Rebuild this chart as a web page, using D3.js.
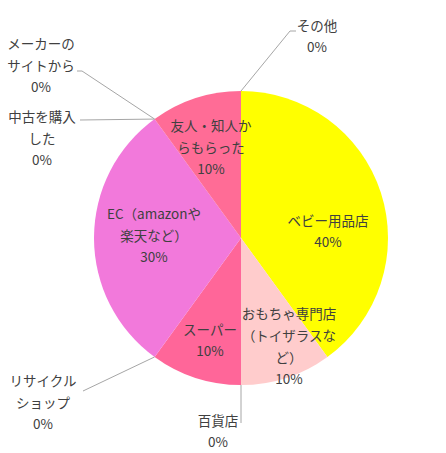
<!DOCTYPE html>
<html>
<head>
<meta charset="utf-8">
<script src="https://cdn.jsdelivr.net/npm/d3@7"></script>
<style>
  body { margin: 0; background: #fff; }
  text { font-family: "Noto Sans CJK JP", "Noto Sans", sans-serif; fill: #404040; }
</style>
</head>
<body>
<div id="chart"></div>
<script>
// data
var categories = ["ベビー用品店", "おもちゃ専門店（トイザラスなど）", "百貨店", "スーパー", "リサイクルショップ",
	"EC（amazonや楽天など）", "中古を購入した", "メーカーのサイトから", "友人・知人からもらった", "その他"];
var values = [40, 10, 0, 10, 0, 30, 0, 0, 10, 0];
var sliceColors = ["#FFFF00", "#FFCCCC", "#FF9999", "#FF6699", "#CC99FF",
	"#F279DB", "#99CCFF", "#FFCC99", "#FF6C96", "#CCCCCC"];
// wrapped label lines as drawn in the chart
var labelLines = [
	["ベビー用品店"],
	["おもちゃ専門店", "（トイザラスな", "ど）"],
	["百貨店"],
	["スーパー"],
	["リサイクル", "ショップ"],
	["EC（amazonや", "楽天など）"],
	["中古を購入", "した"],
	["メーカーの", "サイトから"],
	["友人・知人か", "らもらった"],
	["その他"]
];

var width = 446, height = 453,
	cx = 241, cy = 238,
	radius = 147,
	lineH = 22;

// label placement (first line centre) and leader elbows for the outside labels
var labelLayout = [
	{x: 328, y: 220},
	{x: 289, y: 313},
	{x: 218, y: 420, leader: [[0, 423]], outside: true},
	{x: 210, y: 329},
	{x: 43, y: 380, leader: [[83, 391]], outside: true},
	{x: 154, y: 213},
	{x: 42, y: 116, leader: [[80, 120]], outside: true},
	{x: 41, y: 43, leader: [[82, 71], [77, 71]], outside: true},
	{x: 211, y: 125},
	{x: 317, y: 25, leader: [[290, 31], [296, 31]], outside: true}
];

var pieData = categories.map(function(c, i) {
	return {label: c, value: values[i], lines: labelLines[i], color: sliceColors[i], pos: labelLayout[i]};
});

var svg = d3.select("#chart").append("svg")
	.attr("width", width)
	.attr("height", height);

var pie = d3.pie()
	.value(function(d) { return d.value; })
	.sort(null);

var arc = d3.arc()
	.innerRadius(0)
	.outerRadius(radius);

var arcs = pie(pieData);

var g = svg.append("g")
	.attr("transform", "translate(" + cx + "," + cy + ")");

g.selectAll("path")
	.data(arcs.filter(function(d) { return d.value > 0; }))
	.enter()
	.append("path")
	.attr("d", arc)
	.style("fill", function(d) { return d.data.color; });

// leader lines for the 0% slices
var pct = d3.format(".0%");
var total = d3.sum(values);

svg.append("g").selectAll("polyline")
	.data(arcs.filter(function(d) { return d.data.pos.outside; }))
	.enter()
	.append("polyline")
	.attr("fill", "none")
	.attr("stroke", "#A6A6A6")
	.attr("stroke-width", 1)
	.attr("points", function(d) {
		var p = d3.pointRadial(d.startAngle, radius);
		var start = [cx + p[0], cy + p[1]];
		var pts = [start];
		d.data.pos.leader.forEach(function(e) {
			// a 0 x means "same x as the slice edge"
			pts.push([e[0] === 0 ? start[0] : e[0], e[1]]);
		});
		return pts.map(function(q) { return q.join(","); }).join(" ");
	});

// labels
var labels = svg.append("g").selectAll("text")
	.data(arcs)
	.enter()
	.append("text")
	.attr("text-anchor", "middle")
	.attr("font-size", "13.5px");

labels.each(function(d) {
	var t = d3.select(this);
	var lines = d.data.lines.concat([pct(d.value / total)]);
	lines.forEach(function(l, i) {
		t.append("tspan")
			.attr("x", d.data.pos.x)
			.attr("y", d.data.pos.y + i * lineH - (i === lines.length - 1 && i > 0 ? 1 : 0))
			.attr("dominant-baseline", "central")
			.text(l);
	});
});
</script>
</body>
</html>
